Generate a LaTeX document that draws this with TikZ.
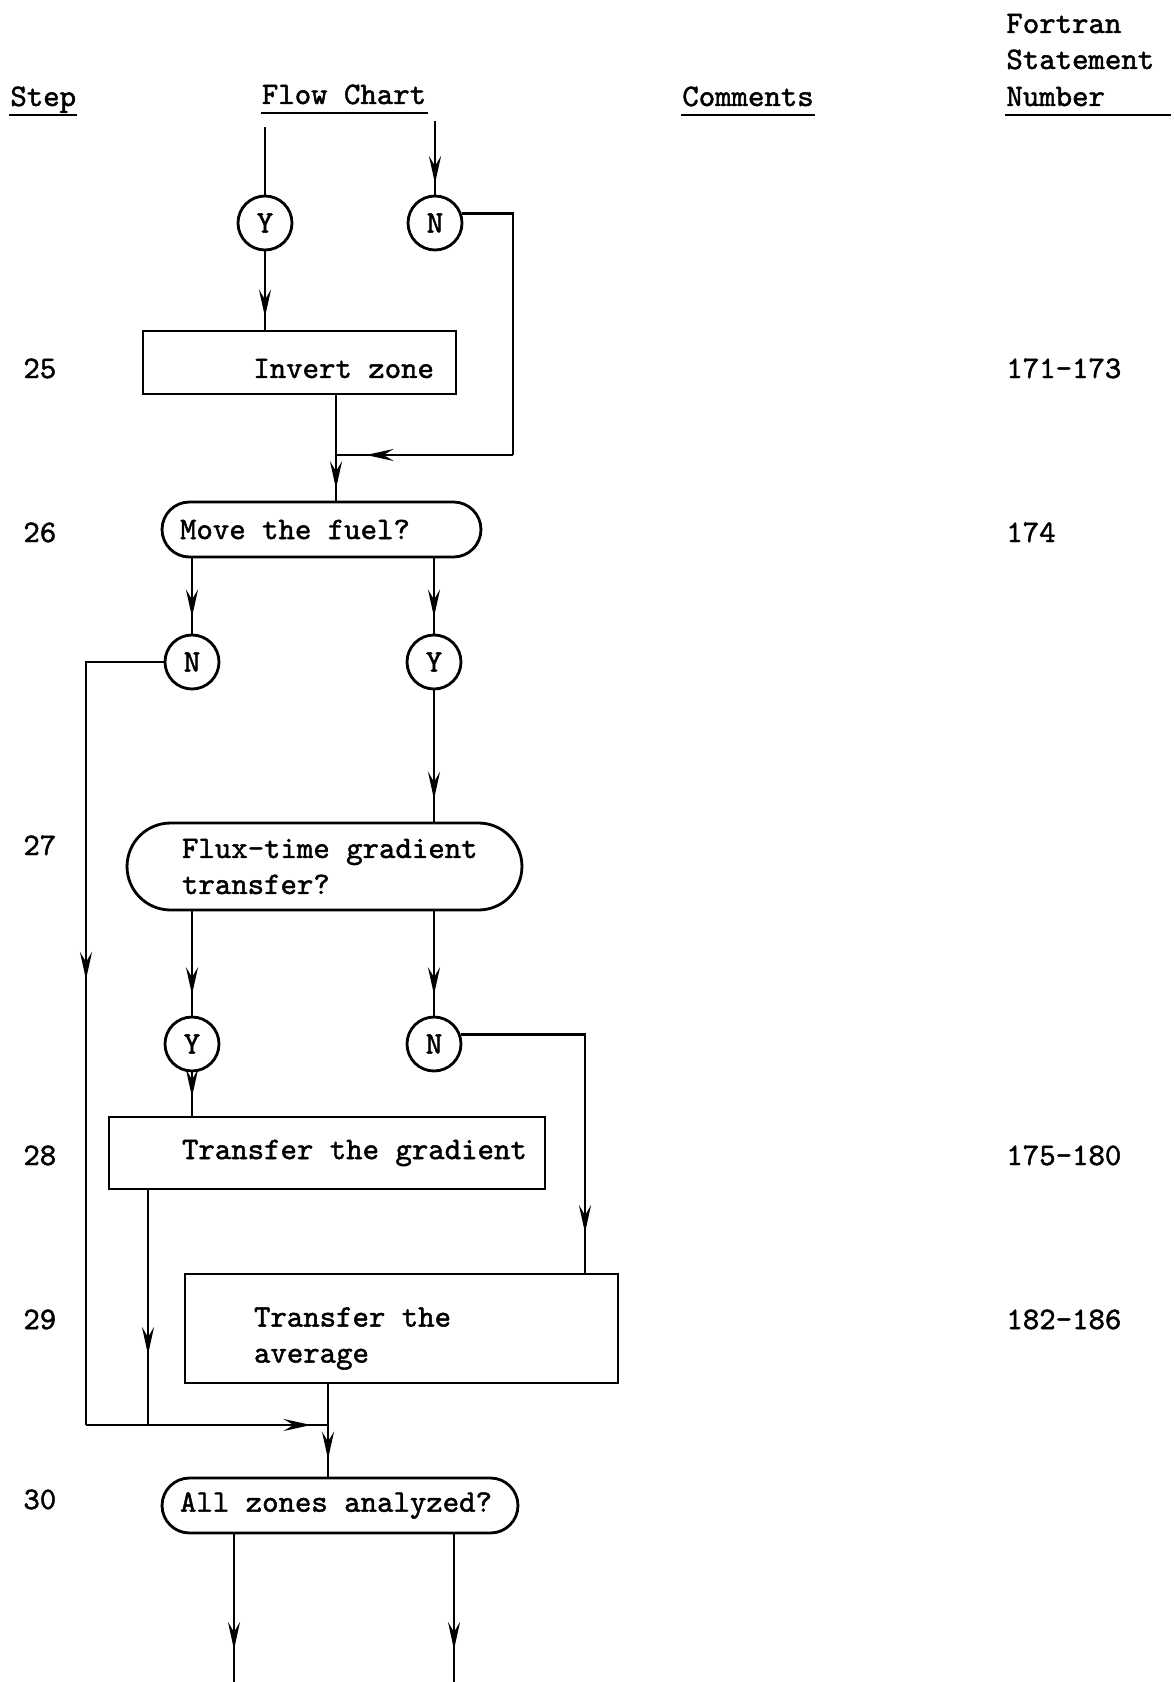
\documentclass[tikz,border=0pt]{standalone}
\usepackage{fontspec}
\setmainfont{lmmono10-regular.otf}[FakeBold=1.5]
\usetikzlibrary{arrows.meta}
\usetikzlibrary{decorations.markings}

\tikzset{
  flow/.style={postaction={decorate},
    decoration={markings, mark=at position #1 with {\arrow{Stealth[length=5.5mm, width=2.4mm, inset=2mm]}}}},
  answer/.style={circle, draw, inner sep=0pt, minimum size=1.08cm},
  process/.style={rectangle, draw},
  decision/.style={rectangle, draw, rounded corners=#1},
  caption/.style={inner sep=0pt, align=left},
  head/.style={anchor=base west, inner sep=0pt},
}

\begin{document}
\begin{tikzpicture}[x=0.02cm, y=-0.02cm, line width=1.6pt, font=\fontsize{17.8}{20.5}\selectfont]
  \useasboundingbox (0,0) rectangle (1173,1682);

  % column heads
  \node[head] (step) at (9,106) {Step};
  \node[head, anchor=base] (chart) at (344,104) {Flow Chart};
  \node[head, anchor=base] (comments) at (748,106) {Comments};
  \node[head] (fortran) at (1005,33) {Fortran};
  \node[head] (statement) at (1005,69) {Statement};
  \node[head] (number) at (1005,106) {Number};
  \draw[line width=1pt] ([yshift=-5pt]step.base west) -- ([yshift=-5pt]step.base east);
  \draw[line width=1pt] ([yshift=-5pt]chart.base west) -- ([yshift=-5pt]chart.base east);
  \draw[line width=1pt] ([yshift=-5pt]comments.base west) -- ([yshift=-5pt]comments.base east);
  \draw[line width=1pt] ([yshift=-5pt]number.base west) -- ([yshift=-5pt,xshift=0.3cm]number.base west -| statement.east);

  % step numbers and statement numbers
  \node[head] (s25) at (22,378) {25};
  \node[head] (s26) at (22,542) {26};
  \node[head] (s27) at (22,855) {27};
  \node[head] (s28) at (22,1165) {28};
  \node[head] (s29) at (22,1329) {29};
  \node[head] (s30) at (22,1509) {30};
  \node[head] (f25) at (1005,378) {171-173};
  \node[head] (f26) at (1005,542) {174};
  \node[head] (f28) at (1005,1165) {175-180};
  \node[head] (f29) at (1005,1329) {182-186};

  % answer circles
  \node[answer] (y1) at (265,223) {Y};
  \node[answer] (n1) at (435,223) {N};
  \node[answer] (n2) at (192,662) {N};
  \node[answer] (y2) at (434,662) {Y};
  \node[answer] (y3) at (192,1044) {Y};
  \node[answer] (n3) at (434,1044) {N};

  % boxes
  \node[process, minimum width=6.26cm, minimum height=1.26cm] (invert) at (299.5,362.5) {};
  \node[decision=0.55cm, minimum width=6.38cm, minimum height=1.10cm] (move) at (321.5,529.5) {};
  \node[decision=0.87cm, minimum width=7.90cm, minimum height=1.74cm] (flux) at (324.5,866.5) {};
  \node[process, minimum width=8.72cm, minimum height=1.44cm] (gradient) at (327,1153) {};
  \node[process, minimum width=8.66cm, minimum height=2.18cm] (average) at (401.5,1328.5) {};
  \node[decision=0.55cm, minimum width=7.12cm, minimum height=1.10cm] (all) at (340,1505.5) {};

  \node[caption, anchor=east] (invert text) at ([xshift=-0.44cm,yshift=-0.12cm]invert.east) {Invert zone};
  \node[caption, anchor=west] (move text) at ([xshift=0.36cm]move.west) {Move the fuel?};
  \node[caption, anchor=west] (flux text) at ([xshift=1.1cm]flux.west) {Flux-time gradient\\transfer?};
  \node[caption, anchor=west] (gradient text) at ([xshift=1.46cm]gradient.west) {Transfer the gradient};
  \node[caption, anchor=west] (average text) at ([xshift=1.38cm,yshift=-0.2cm]average.west) {Transfer the\\average};
  \node[caption, anchor=west] (all text) at ([xshift=0.36cm]all.west) {All zones analyzed?};

  % free ends and corners
  \coordinate (in1) at (265,127);
  \coordinate (in2) at (435,121);
  \coordinate (c1) at (513,455);
  \coordinate (j1) at (336,455);
  \coordinate (c2) at (86,1425);
  \coordinate (j2) at (328,1425);
  \coordinate (j3) at (148,1425);
  \coordinate (c3) at (585,1036);
  \coordinate (out1) at (234,1682);
  \coordinate (out2) at (454,1682);

  % connectors
  \draw (in1) -- (y1);
  \draw[flow=0.85] (in2) -- (n1);
  \draw[flow=0.84] (y1) -- (invert.north -| y1);
  \draw (n1.20) -| (c1);
  \draw[flow=0.83] (c1) -- (j1);
  \draw (invert.south -| j1) -- (j1);
  \draw[flow=0.74] (j1) -- (move.north -| j1);

  \draw[flow=0.78] (move.south -| n2) -- (n2);
  \draw[flow=0.78] (move.south -| y2) -- (y2);
  \draw[flow=0.47] (n2) -| (c2);
  \draw[flow=0.93] (c2) -- (j2);
  \draw[flow=0.83] (y2) -- (flux.north -| y2);

  \draw[flow=0.8] (flux.south -| y3) -- (y3);
  \draw[flow=0.8] (flux.south -| n3) -- (n3);
  \draw[flow=0.57] (y3) -- (gradient.north -| y3);
  \draw[flow=0.89] (n3.20) -| (average.north -| c3);
  \draw[flow=0.7] (gradient.south -| j3) -- (j3);
  \draw[flow=0.81] (average.south -| j2) -- (all.north -| j2);

  \draw[flow=0.78] (all.south -| out1) -- (out1);
  \draw[flow=0.78] (all.south -| out2) -- (out2);
\end{tikzpicture}
\end{document}
